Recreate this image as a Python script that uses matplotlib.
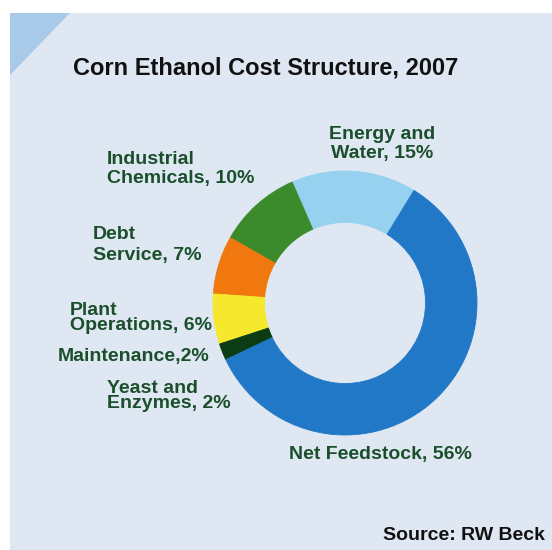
import matplotlib.pyplot as plt
from matplotlib.patches import Rectangle, Polygon

plt.rcParams['font.family'] = ['Liberation Sans', 'DejaVu Sans']

# data (counter-clockwise from Energy and Water)
labels = ["Energy and\nWater, 15%", "Industrial\nChemicals, 10%", "Debt\nService, 7%",
          "Plant\nOperations, 6%", "Maintenance,2%", "Yeast and\nEnzymes, 2%",
          "Net Feedstock, 56%"]
shares = [15, 10, 7, 6, 2, 2, 56]
colors = ["#96d2f0", "#3b8a2c", "#f0780f", "#f6e82c", "#0c3c14", "#2178c6", "#2178c6"]

W, H = 552, 550
fig = plt.figure(figsize=(W / 100, H / 100), dpi=100)
fig.patch.set_facecolor("white")

# background panel in pixel coordinates
bg = fig.add_axes([0, 0, 1, 1])
bg.set_xlim(0, W)
bg.set_ylim(H, 0)
bg.axis("off")
bg.add_patch(Rectangle((10, 13), W - 10, H - 13, color="#dfe8f2", lw=0))
bg.add_patch(Polygon([(10, 13), (70, 13), (10, 75)], closed=True, color="#a9c9e8", lw=0))

bg.text(266, 68, "Corn Ethanol Cost Structure, 2007", ha="center", va="center",
        fontsize=17, fontweight="bold", color="#111111")
bg.text(545, 535, "Source: RW Beck", ha="right", va="center",
        fontsize=14, fontweight="bold", color="#111111")

# label positions (x, y, ha, linespacing) in pixels
label_pos = [(382, 144, "center", 1.12), (107, 169, "left", 1.15), (93, 245, "left", 1.25),
             (70, 318, "left", 0.78), (58, 357, "left", 1.0), (107, 396, "left", 0.8),
             (380, 454, "center", 1.0)]
lab_color = "#1b4f2c"
for txt, (x, y, ha, ls) in zip(labels, label_pos):
    bg.text(x, y, txt, ha=ha, va="center", fontsize=14, fontweight="bold",
            color=lab_color, linespacing=ls, multialignment=ha)

# donut
cx, cy, r = 345, 303, 132
ax = fig.add_axes([(cx - r) / W, 1 - (cy + r) / H, 2 * r / W, 2 * r / H])
wedges, _ = ax.pie(shares, colors=colors, startangle=58.5, counterclock=True,
                   wedgeprops=dict(width=0.39))
for w in wedges:
    w.set_edgecolor(w.get_facecolor())
    w.set_linewidth(0.6)
ax.set_xlim(-1, 1)
ax.set_ylim(-1, 1)
ax.axis("off")

fig.savefig("out.png", dpi=100)
